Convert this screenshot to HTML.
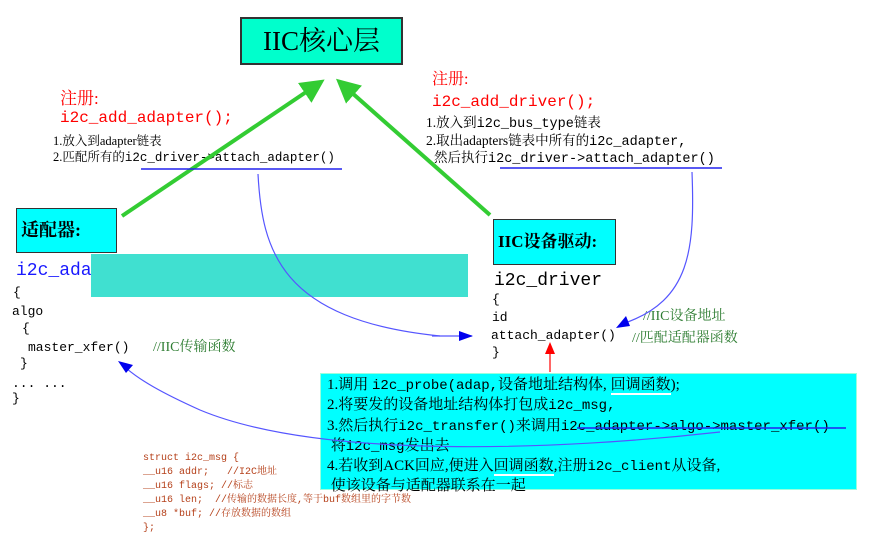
<!DOCTYPE html>
<html><head><meta charset="utf-8"><style>
body{margin:0;width:873px;height:544px;background:#fff;position:relative;overflow:hidden;font-family:"Liberation Serif","Noto Serif CJK SC",serif;}
.a{position:absolute;white-space:nowrap;line-height:1;}
.m{font-family:"Liberation Mono","Noto Serif CJK SC",monospace;}
.red{color:#f00;}
.g{color:#2e7d32;}
.br{color:#b5401a;}
</style></head><body>
<div class="a" style="left:240px;top:17px;width:163px;height:48px;background:#00ffcc;border:2px solid #333;box-sizing:border-box;font-size:27px;text-align:center;line-height:44px;">IIC核心层</div>

<div class="a red" style="left:60px;top:90px;font-size:17px;">注册:</div>
<div class="a red m" style="left:60px;top:110px;font-size:16px;">i2c_add_adapter();</div>
<div class="a" style="left:53px;top:135px;font-size:12.5px;">1.放入到adapter链表</div>
<div class="a" style="left:53px;top:151px;font-size:12.5px;">2.匹配所有的<span class="m">i2c_driver-&gt;attach_adapter()</span></div>

<div class="a red" style="left:432px;top:72px;font-size:16px;">注册:</div>
<div class="a red m" style="left:432px;top:94px;font-size:16px;">i2c_add_driver();</div>
<div class="a" style="left:426px;top:116px;font-size:13.5px;">1.放入到<span class="m">i2c_bus_type</span>链表</div>
<div class="a" style="left:426px;top:134px;font-size:13.5px;">2.取出adapters链表中所有的<span class="m">i2c_adapter,</span></div>
<div class="a" style="left:434px;top:151px;font-size:13.5px;">然后执行<span class="m">i2c_driver-&gt;attach_adapter()</span></div>

<div class="a" style="left:16px;top:208px;width:101px;height:45px;background:#00ffff;border:1.5px solid #333;box-sizing:border-box;font-size:18px;line-height:42px;padding-left:4px;font-weight:bold;">适配器:</div>
<div class="a m" style="left:16px;top:262px;font-size:18px;color:#1a1aff;">i2c_adapter</div>
<div class="a" style="left:91px;top:254px;width:377px;height:43px;background:#40e0d0;"></div>
<div class="a m" style="left:13px;top:286px;font-size:13px;">{</div>
<div class="a m" style="left:12px;top:305px;font-size:13px;">algo</div>
<div class="a m" style="left:22px;top:322px;font-size:13px;">{</div>
<div class="a m" style="left:28px;top:341px;font-size:13px;">master_xfer()</div>
<div class="a g" style="left:153px;top:341px;font-size:14px;">//IIC传输函数</div>
<div class="a m" style="left:20px;top:357px;font-size:13px;">}</div>
<div class="a m" style="left:12px;top:377px;font-size:13px;">... ...</div>
<div class="a m" style="left:12px;top:392px;font-size:13px;">}</div>

<div class="a" style="left:493px;top:219px;width:123px;height:46px;background:#00ffff;border:1.5px solid #333;box-sizing:border-box;font-size:17px;line-height:43px;padding-left:4px;font-weight:bold;">IIC设备驱动:</div>
<div class="a m" style="left:494px;top:272px;font-size:18px;">i2c_driver</div>
<div class="a m" style="left:492px;top:293px;font-size:13px;">{</div>
<div class="a m" style="left:492px;top:311px;font-size:13px;">id</div>
<div class="a m" style="left:491px;top:329px;font-size:13px;">attach_adapter()</div>
<div class="a m" style="left:492px;top:346px;font-size:13px;">}</div>
<div class="a g" style="left:643px;top:310px;font-size:14px;">//IIC设备地址</div>
<div class="a g" style="left:632px;top:332px;font-size:14px;">//匹配适配器函数</div>

<div class="a" style="left:320px;top:373px;width:537px;height:117px;background:#00ffff;border:1px solid #9fd;box-sizing:border-box;"></div>
<div class="a" style="left:327px;top:376px;font-size:15px;line-height:19.3px;">
1.调用 <span class="m" style="font-size:14px">i2c_probe(adap,</span>设备地址结构体, <span style="border-bottom:2px solid #fff">回调函数</span>);<br>
2.将要发的设备地址结构体打包成<span class="m" style="font-size:14px">i2c_msg,</span><br>
3.然后执行<span class="m" style="font-size:14px">i2c_transfer()</span>来调用<span class="m" style="font-size:14px">i2c_adapter-&gt;algo-&gt;master_xfer()</span><br>
&nbsp;将<span class="m" style="font-size:14px">i2c_msg</span>发出去<br>
4.若收到ACK回应,便进入<span style="border-bottom:2px solid #fff">回调函数</span>,注册<span class="m" style="font-size:14px">i2c_client</span>从设备,<br>
&nbsp;使该设备与适配器联系在一起</div>

<div class="a br m" style="left:143px;top:452px;font-size:10px;line-height:14px;">
struct i2c_msg {<br>__u16 addr;&nbsp;&nbsp; //I2C地址<br>__u16 flags; //标志<br>__u16 len;&nbsp; //传输的数据长度,等于buf数组里的字节数<br>__u8 *buf; //存放数据的数组<br>};</div>

<svg class="a" style="left:0;top:0" width="873" height="544">
<defs>
<marker id="gb" markerWidth="6" markerHeight="6" refX="4" refY="3" orient="auto" markerUnits="strokeWidth"><path d="M0,0L6,3L0,6z" fill="#33cc33"/></marker>
</defs>
<line x1="122" y1="216" x2="318" y2="84" stroke="#33cc33" stroke-width="4" marker-end="url(#gb)"/>
<line x1="490" y1="215" x2="342" y2="84" stroke="#33cc33" stroke-width="4" marker-end="url(#gb)"/>
<line x1="141" y1="169" x2="342" y2="169" stroke="#2222ee" stroke-width="1.5"/>
<line x1="500" y1="168" x2="722" y2="168" stroke="#2222ee" stroke-width="1.5"/>
<line x1="577" y1="428" x2="846" y2="428" stroke="#2222ee" stroke-width="1.5"/>
<path d="M258,174 C262,250 280,320 440,336" stroke="#5555ff" stroke-width="1.2" fill="none"/>
<path d="M432,336 L472,336" stroke="#5555ff" stroke-width="1.2"/>
<path d="M473,336 L459,331 L459,341z" fill="#0000ee"/>
<path d="M692,172 C695,250 690,300 625,323" stroke="#5555ff" stroke-width="1.2" fill="none"/>
<path d="M616,328 L626,316 L630,326z" fill="#0000ee"/>
<path d="M720,432 C560,450 320,460 200,410 C160,392 140,380 126,368" stroke="#5555ff" stroke-width="1.2" fill="none"/>
<path d="M118,361 L133,365 L126,373z" fill="#0000ee"/>
<line x1="550" y1="372" x2="550" y2="352" stroke="#f00" stroke-width="1.2"/>
<path d="M550,342 L545,354 L555,354z" fill="#f00"/>
</svg>
</body></html>
